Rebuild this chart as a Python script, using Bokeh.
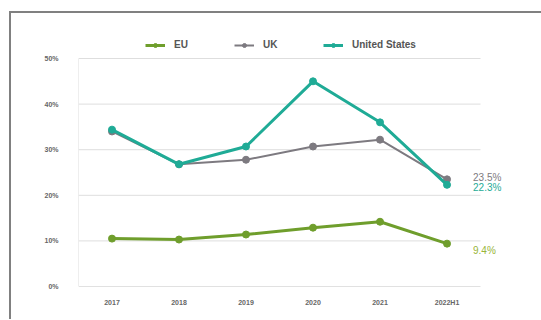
from bokeh.plotting import figure
from bokeh.layouts import column
from bokeh.models import Range1d, Legend, LegendItem, NumeralTickFormatter, FixedTicker
from bokeh.embed import file_html
from bokeh.resources import INLINE
from bokeh.core.properties import value

years = ["2017", "2018", "2019", "2020", "2021", "2022H1"]
eu = [0.105, 0.103, 0.114, 0.129, 0.142, 0.094]
uk = [0.340, 0.268, 0.278, 0.307, 0.322, 0.235]
us = [0.344, 0.268, 0.307, 0.450, 0.360, 0.223]
series_names = ["EU", "UK", "United States"]
last_labels = ["9.4%", "23.5%", "22.3%"]
y_ticks = [0, 0.1, 0.2, 0.3, 0.4, 0.5]

C_EU = "#6f9e2c"
C_UK = "#7d7a80"
C_US = "#1fab96"
C_EU_LBL = "#98b53a"

FONT = "Liberation Sans"
xs = list(range(len(years)))

p = figure(width=530, height=306, x_range=Range1d(-0.5, 6.41), y_range=Range1d(0, 0.5987),
           output_backend="svg", toolbar_location=None,
           min_border_left=67, min_border_right=0, min_border_top=0, min_border_bottom=33)
p.outline_line_color = None
p.background_fill_color = "white"
p.border_fill_color = "white"

p.xaxis.ticker = FixedTicker(ticks=xs)
p.xaxis.major_label_overrides = {i: y for i, y in enumerate(years)}
p.yaxis.ticker = FixedTicker(ticks=y_ticks)
p.yaxis.formatter = NumeralTickFormatter(format="0%")
p.ygrid.grid_line_color = None
p.xgrid.grid_line_color = None
p.yaxis.axis_line_color = None
p.xaxis.axis_line_color = None
for ax in (p.xaxis, p.yaxis):
    ax.major_tick_line_color = None
    ax.minor_tick_line_color = None
    ax.major_label_text_font = FONT
    ax.major_label_text_font_size = "7px"
    ax.major_label_text_font_style = "bold"
    ax.major_label_text_color = "#666666"
p.yaxis.major_label_standoff = 14
p.xaxis.major_label_standoff = 6

# gridlines and frame lines spanning only the category area
x_lo, x_hi = xs[0] - 0.5, xs[-1] + 0.5
p.segment(x0=[x_lo] * (len(y_ticks) - 1), x1=[x_hi] * (len(y_ticks) - 1), y0=y_ticks[1:], y1=y_ticks[1:],
          line_color="#dedede", line_width=1)
p.segment(x0=[x_lo], x1=[x_hi], y0=[0], y1=[0], line_color="#c4c4c4", line_width=1.2)
p.segment(x0=[x_lo], x1=[x_lo], y0=[0], y1=[y_ticks[-1]], line_color="#dedede", line_width=1)

items = []
for vals, color, name, lw in [(eu, C_EU, "EU", 3), (uk, C_UK, "UK", 2), (us, C_US, "United States", 3)]:
    r1 = p.line(xs, vals, line_color=color, line_width=lw)
    r2 = p.scatter(xs, vals, marker="circle", size=7, fill_color=color, line_color=color)
    items.append(LegendItem(label=name, renderers=[r1, r2]))

legend = Legend(items=items, orientation="horizontal", location=(67, 236),
                label_text_font=FONT, label_text_font_size="10px", label_text_font_style="bold",
                label_text_color="#555555", glyph_width=20, glyph_height=10, label_standoff=9,
                spacing=40, padding=0, margin=0, border_line_color=None, background_fill_alpha=0,
                label_height=10)
p.add_layout(legend, "center")

ly = [eu[-1], uk[-1], us[-1]]
offs = [7, -2, 3]
cols = [C_EU_LBL, C_UK, C_US]
for y, t, c, o in zip(ly, last_labels, cols, offs):
    p.text([xs[-1]], [y], text=[t], text_color=c, text_font=value(FONT), text_font_size="10px",
           text_baseline="middle", x_offset=26, y_offset=o)

layout = column(p, styles={"margin-left": "9px", "margin-top": "11px",
                           "border-left": "2px solid #808080", "border-top": "2px solid #808080"})

open("out.html", "w").write(file_html(layout, INLINE))
